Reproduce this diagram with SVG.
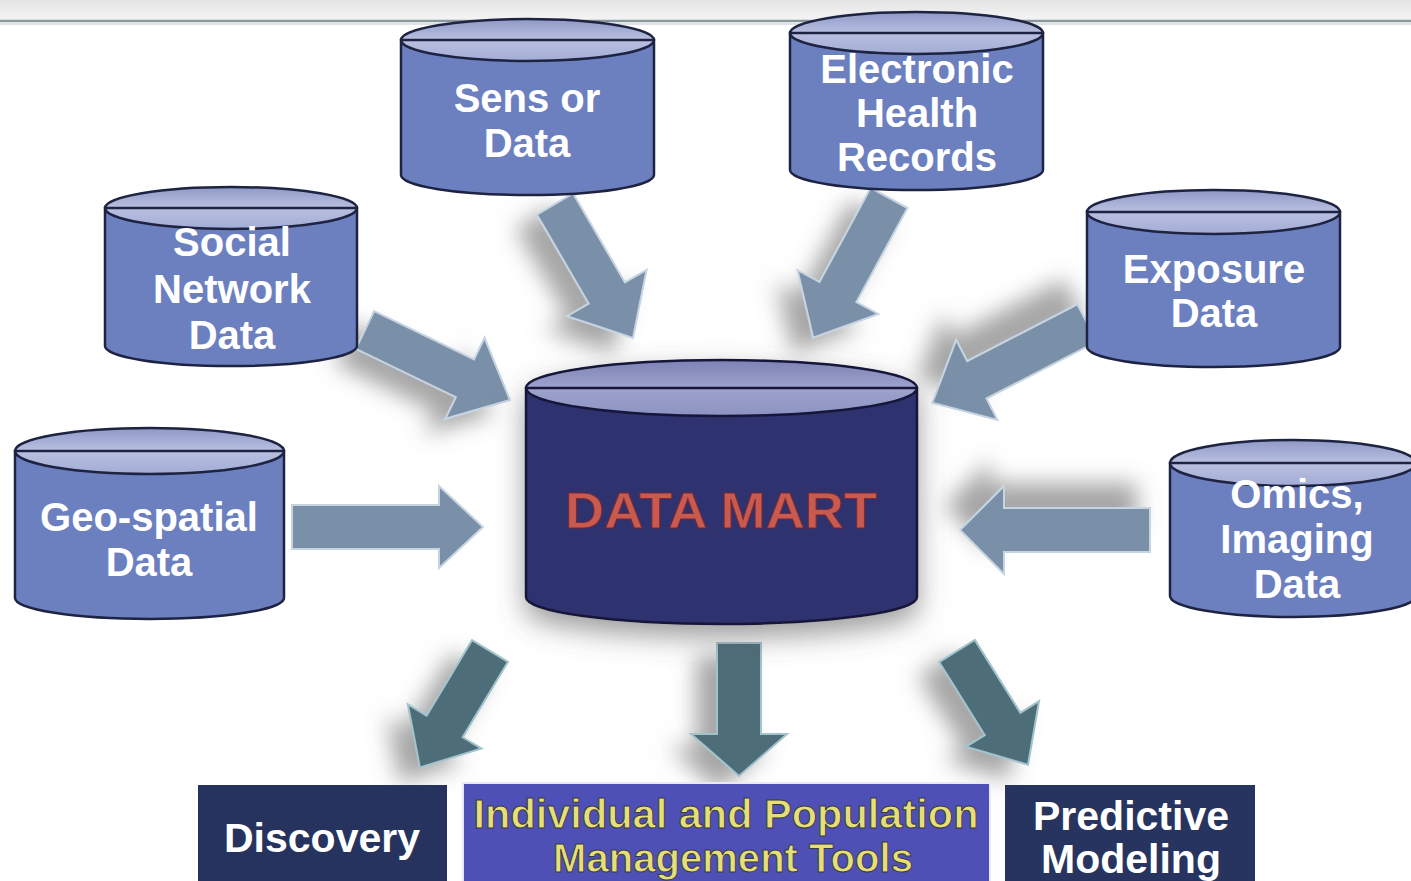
<svg xmlns="http://www.w3.org/2000/svg" width="1411" height="881" viewBox="0 0 1411 881">
<style>
.body{fill:#6c80c0;stroke:#1d2340;stroke-width:2.5}
.top{fill:url(#topg);stroke:#1d2340;stroke-width:2.5}
.eq{stroke:#1d2340;stroke-width:2.5}
.dmbody{fill:#2f306e;stroke:#15173a;stroke-width:2.5}
.dmtop{fill:url(#dmtopg);stroke:#15173a;stroke-width:2.5}
.arrow{fill:#7a90a8;stroke:#c6d4e2;stroke-width:2;stroke-linejoin:miter}
.arrow2{fill:#4d6d79;stroke:#a3c3cc;stroke-width:2}
.lbl{font-family:"Liberation Sans",Arial,sans-serif;font-weight:bold;font-size:40px;fill:#ffffff;text-anchor:middle}
.box{font-family:"Liberation Sans",Arial,sans-serif;font-weight:bold;font-size:41px;text-anchor:middle}
</style>
<defs>
<linearGradient id="topg" x1="0" y1="0" x2="0" y2="1">
<stop offset="0" stop-color="#8e99c6"/><stop offset="0.5" stop-color="#b9c0e0"/><stop offset="1" stop-color="#a3acd6"/>
</linearGradient>
<linearGradient id="dmtopg" x1="0" y1="0" x2="0" y2="1">
<stop offset="0" stop-color="#7c82b3"/><stop offset="0.5" stop-color="#9ea3cc"/><stop offset="1" stop-color="#8d93c2"/>
</linearGradient>
<linearGradient id="band" x1="0" y1="0" x2="0" y2="1">
<stop offset="0" stop-color="#e4e4e4"/><stop offset="1" stop-color="#f4f4f4"/>
</linearGradient>
<filter id="sh" x="-60%" y="-60%" width="220%" height="220%">
<feOffset in="SourceAlpha" dx="-20" dy="14" result="o"/>
<feGaussianBlur in="o" stdDeviation="11" result="b"/>
<feFlood flood-color="#6a6a6a" flood-opacity="0.6"/>
<feComposite in2="b" operator="in" result="s"/>
<feMerge><feMergeNode in="s"/><feMergeNode in="SourceGraphic"/></feMerge>
</filter>
<filter id="shu" x="-60%" y="-60%" width="220%" height="220%">
<feOffset in="SourceAlpha" dx="-14" dy="-24" result="o"/>
<feGaussianBlur in="o" stdDeviation="11" result="b"/>
<feFlood flood-color="#6a6a6a" flood-opacity="0.6"/>
<feComposite in2="b" operator="in" result="s"/>
<feMerge><feMergeNode in="s"/><feMergeNode in="SourceGraphic"/></feMerge>
</filter>
<filter id="shd" x="-20%" y="-20%" width="140%" height="150%">
<feOffset in="SourceAlpha" dx="0" dy="12" result="o"/>
<feGaussianBlur in="o" stdDeviation="14" result="b"/>
<feFlood flood-color="#5a5a5a" flood-opacity="0.6"/>
<feComposite in2="b" operator="in" result="s"/>
<feMerge><feMergeNode in="s"/><feMergeNode in="SourceGraphic"/></feMerge>
</filter>
</defs>
<rect x="0" y="0" width="1411" height="881" fill="#ffffff"/>
<rect x="0" y="0" width="1411" height="20" fill="url(#band)"/>
<line x1="0" y1="21" x2="1411" y2="21" stroke="#8b979d" stroke-width="2.5"/>
<line x1="0" y1="24" x2="1411" y2="24" stroke="#d4dade" stroke-width="1.5"/>

<g id="connectors">
<g filter="url(#sh)"><path class="arrow" transform="translate(555,204) rotate(59.8)" d="M0,-21 L103,-21 L103,-46 L155,0 L103,46 L103,21 L0,21Z"/></g>
<g filter="url(#sh)"><path class="arrow" transform="translate(889,198) rotate(118.5)" d="M0,-21 L107,-21 L107,-46 L159,0 L107,46 L107,21 L0,21Z"/></g>
<g filter="url(#sh)"><path class="arrow" transform="translate(365,330) rotate(25.8)" d="M0,-21 L111,-21 L111,-45 L161,0 L111,45 L111,21 L0,21Z"/></g>
<g filter="url(#shu)"><path class="arrow" transform="translate(1087,323) rotate(152.7)" d="M0,-21 L124,-21 L124,-45 L174,0 L124,45 L124,21 L0,21Z"/></g>
<path class="arrow" transform="translate(292,527)" d="M0,-22 L147,-22 L147,-41 L191,0 L147,41 L147,22 L0,22Z"/>
<g filter="url(#shu)"><path class="arrow" transform="translate(1150,530) rotate(180)" d="M0,-22 L146,-22 L146,-44 L190,0 L146,44 L146,22 L0,22Z"/></g>
<g filter="url(#sh)"><path class="arrow2" transform="translate(490,651) rotate(121)" d="M0,-21 L88,-21 L88,-43 L136,0 L88,43 L88,21 L0,21Z"/></g>
<g filter="url(#sh)"><path class="arrow2" transform="translate(739,643) rotate(90)" d="M0,-22 L91,-22 L91,-48 L133,0 L91,48 L91,22 L0,22Z"/></g>
<g filter="url(#sh)"><path class="arrow2" transform="translate(957,651) rotate(58)" d="M0,-21 L86,-21 L86,-43 L134,0 L86,43 L86,21 L0,21Z"/></g>
</g>

<g id="sensor">
<path class="body" d="M401,40 L401,175 A126.5,20 0 0 0 654,175 L654,40 Z"/>
<ellipse class="top" cx="527.5" cy="40" rx="126.5" ry="21"/>
<line class="eq" x1="401" y1="40" x2="654" y2="40"/>
<text class="lbl" x="527" y="112">Sens or</text>
<text class="lbl" x="527" y="157">Data</text>
</g>

<g id="ehr">
<path class="body" d="M790,33 L790,170 A126.5,20 0 0 0 1043,170 L1043,33 Z"/>
<ellipse class="top" cx="916.5" cy="33" rx="126.5" ry="21"/>
<line class="eq" x1="790" y1="33" x2="1043" y2="33"/>
<text class="lbl" x="917" y="83">Electronic</text>
<text class="lbl" x="917" y="127">Health</text>
<text class="lbl" x="917" y="171">Records</text>
</g>

<g id="social">
<path class="body" d="M105,208 L105,346 A126,20 0 0 0 357,346 L357,208 Z"/>
<ellipse class="top" cx="231" cy="208" rx="126" ry="21"/>
<line class="eq" x1="105" y1="208" x2="357" y2="208"/>
<text class="lbl" x="232" y="256">Social</text>
<text class="lbl" x="232" y="303">Network</text>
<text class="lbl" x="232" y="349">Data</text>
</g>

<g id="exposure">
<path class="body" d="M1087,212 L1087,347 A126.5,20 0 0 0 1340,347 L1340,212 Z"/>
<ellipse class="top" cx="1213.5" cy="212" rx="126.5" ry="22"/>
<line class="eq" x1="1087" y1="212" x2="1340" y2="212"/>
<text class="lbl" x="1214" y="283">Exposure</text>
<text class="lbl" x="1214" y="327">Data</text>
</g>

<g id="geo">
<path class="body" d="M15,451 L15,598 A134.5,21 0 0 0 284,598 L284,451 Z"/>
<ellipse class="top" cx="149.5" cy="451" rx="134.5" ry="23"/>
<line class="eq" x1="15" y1="451" x2="284" y2="451"/>
<text class="lbl" x="149" y="531">Geo-spatial</text>
<text class="lbl" x="149" y="576">Data</text>
</g>

<g id="omics">
<path class="body" d="M1170,463 L1170,596 A123,21 0 0 0 1416,596 L1416,463 Z"/>
<ellipse class="top" cx="1293" cy="463" rx="123" ry="23"/>
<line class="eq" x1="1170" y1="463" x2="1416" y2="463"/>
<text class="lbl" x="1297" y="508">Omics,</text>
<text class="lbl" x="1297" y="553">Imaging</text>
<text class="lbl" x="1297" y="598">Data</text>
</g>

<g id="datamart" filter="url(#shd)">
<path class="dmbody" d="M526,388 L526,597 A195.5,27 0 0 0 917,597 L917,388 Z"/>
<ellipse class="dmtop" cx="721.5" cy="388" rx="195.5" ry="28"/>
<line x1="526" y1="388" x2="917" y2="388" stroke="#15173a" stroke-width="2.5"/>
<text x="721" y="528" font-family="'Liberation Sans',Arial,sans-serif" font-weight="bold" font-size="50" fill="#c85a50" stroke="#7a2b33" stroke-width="1" text-anchor="middle" textLength="312" lengthAdjust="spacingAndGlyphs">DATA MART</text>
</g>

<g id="discovery">
<rect x="198" y="785" width="249" height="100" fill="#26335f"/>
<text class="box" x="322" y="852" fill="#ffffff">Discovery</text>
</g>

<g id="management">
<rect x="463" y="783" width="527" height="102" fill="#4f50b6" stroke="#e8e8f6" stroke-width="2"/>
<text class="box" x="726" y="828" fill="#e6df78" stroke="#3a3a40" stroke-width="1" textLength="505" lengthAdjust="spacingAndGlyphs">Individual and Population</text>
<text class="box" x="733" y="872" fill="#e6df78" stroke="#3a3a40" stroke-width="1" textLength="360" lengthAdjust="spacingAndGlyphs">Management Tools</text>
</g>

<g id="predictive">
<rect x="1005" y="785" width="250" height="100" fill="#27345f"/>
<text class="box" x="1131" y="830" fill="#ffffff">Predictive</text>
<text class="box" x="1131" y="873" fill="#ffffff">Modeling</text>
</g>
</svg>
